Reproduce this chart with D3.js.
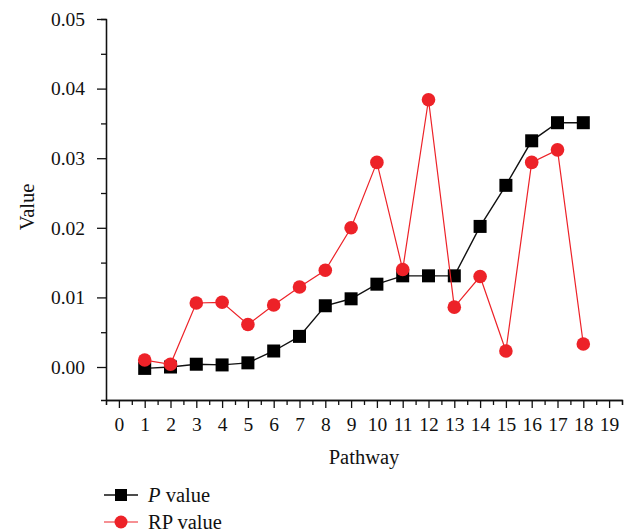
<!DOCTYPE html>
<html lang="en">
<meta charset="UTF-8">
<title>Value per pathway</title>
<script src="https://d3js.org/d3.v7.min.js"></script>
<style>
    body { margin: 0; background: #fff; }
    svg text { font-family: "Liberation Serif", "DejaVu Serif", serif; fill: #111; }
</style>
<body>
<svg id="canvas"></svg>
<script>

// data
let pathways = [1, 2, 3, 4, 5, 6, 7, 8, 9, 10, 11, 12, 13, 14, 15, 16, 17, 18]
let pValues  = [-0.0002, 0.0000, 0.0004, 0.0003, 0.0006, 0.0023, 0.0044, 0.0088, 0.0098,
                0.0119, 0.0131, 0.0131, 0.0131, 0.0202, 0.0261, 0.0325, 0.0351, 0.0351]
let rpValues = [0.0010, 0.0004, 0.0092, 0.0093, 0.0061, 0.0089, 0.0115, 0.0139, 0.0200,
                0.0294, 0.0140, 0.0384, 0.0086, 0.0130, 0.0023, 0.0294, 0.0312, 0.0033]
let xTicks = d3.range(0, 20)
let yTicks = [0, 0.01, 0.02, 0.03, 0.04, 0.05]
let seriesNames = ['P value', 'RP value']

let width = 633
let height = 532
let red = '#ed2228'

let canvas = d3.select('#canvas')
canvas.attr('width', width)
canvas.attr('height', height)

let xScale = d3.scaleLinear()
    .domain([-0.5, 19.5])
    .range([106, 622])

let yScale = d3.scaleLinear()
    .domain([-0.00474, 0.05])
    .range([400, 19])

// axes: major ticks with labels, minor ticks in between
let drawAxes = () => {
    let xMinor = d3.range(-0.5, 20, 1)
    let yMinor = [-0.005, 0.005, 0.015, 0.025, 0.035, 0.045].filter(d => d >= yScale.domain()[0])

    canvas.append('g')
        .attr('transform', 'translate(0,' + 400 + ')')
        .call(d3.axisBottom(xScale).tickValues(xMinor).tickSize(5).tickFormat(''))
    canvas.append('g')
        .attr('id', 'x-axis')
        .attr('transform', 'translate(0,' + 400 + ')')
        .call(d3.axisBottom(xScale).tickValues(xTicks).tickSize(8).tickPadding(9).tickSizeOuter(0))

    canvas.append('g')
        .attr('transform', 'translate(106,0)')
        .call(d3.axisLeft(yScale).tickValues(yMinor).tickSize(5).tickFormat(''))
    canvas.append('g')
        .attr('id', 'y-axis')
        .attr('transform', 'translate(106,0)')
        .call(d3.axisLeft(yScale).tickValues(yTicks).tickSize(9).tickPadding(12)
            .tickSizeOuter(0).tickFormat(d3.format('.2f')))

    canvas.selectAll('.domain, .tick line').attr('stroke', '#111').attr('stroke-width', 1.3)
    canvas.selectAll('.tick text').style('font-size', '19.5px')

    canvas.append('text')
        .attr('x', xScale(9.5))
        .attr('y', 464)
        .attr('text-anchor', 'middle')
        .style('font-size', '20.5px')
        .text('Pathway')

    canvas.append('text')
        .attr('transform', 'translate(34,' + 207 + ') rotate(-90)')
        .attr('text-anchor', 'middle')
        .style('font-size', '20.5px')
        .text('Value')
}

let drawSeries = () => {
    let line = (vals) => d3.line()
        .x((d, i) => xScale(pathways[i]))
        .y(d => yScale(d))(vals)

    canvas.append('path')
        .attr('d', line(pValues))
        .attr('fill', 'none')
        .attr('stroke', '#111')
        .attr('stroke-width', 1.4)

    canvas.selectAll('.sq')
        .data(pValues)
        .enter()
        .append('rect')
        .attr('class', 'sq')
        .attr('x', (d, i) => xScale(pathways[i]) - 6.5)
        .attr('y', d => yScale(d) - 6.5)
        .attr('width', 13)
        .attr('height', 13)
        .attr('fill', '#000')

    canvas.append('path')
        .attr('d', line(rpValues))
        .attr('fill', 'none')
        .attr('stroke', red)
        .attr('stroke-width', 1.2)

    canvas.selectAll('.dot')
        .data(rpValues)
        .enter()
        .append('circle')
        .attr('class', 'dot')
        .attr('cx', (d, i) => xScale(pathways[i]))
        .attr('cy', d => yScale(d))
        .attr('r', 6.8)
        .attr('fill', red)
}

let drawLegend = () => {
    let rows = canvas.selectAll('.legend')
        .data(seriesNames)
        .enter()
        .append('g')
        .attr('class', 'legend')
        .attr('transform', (d, i) => 'translate(104,' + (495 + i * 27) + ')')

    rows.append('line')
        .attr('x1', 0).attr('x2', 34)
        .attr('stroke', (d, i) => i == 0 ? '#111' : red)
        .attr('stroke-width', (d, i) => i == 0 ? 1.4 : 1.2)

    rows.filter((d, i) => i == 0).append('rect')
        .attr('x', 11).attr('y', -6).attr('width', 12).attr('height', 12)
        .attr('fill', '#000')
    rows.filter((d, i) => i == 1).append('circle')
        .attr('cx', 17).attr('r', 6.5)
        .attr('fill', red)

    let labels = rows.append('text')
        .attr('x', 44)
        .attr('y', 7)
        .style('font-size', '20.5px')
    labels.filter((d, i) => i == 0).html('<tspan font-style="italic">P</tspan> value')
    labels.filter((d, i) => i == 1).text(d => d)
}

drawAxes()
drawSeries()
drawLegend()

</script>
</body>
</html>
